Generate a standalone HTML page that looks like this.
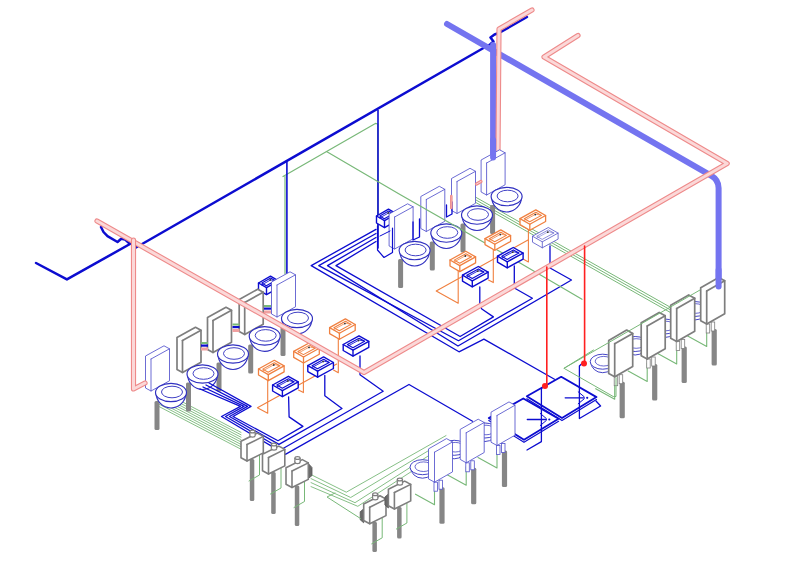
<!DOCTYPE html>
<html><head><meta charset="utf-8"><style>
html,body{margin:0;padding:0;background:#fff;}
svg{display:block;}
</style></head><body>
<svg width="800" height="568" viewBox="0 0 800 568">
<rect width="800" height="568" fill="#fff"/>
<polyline points="283,176.5 375.4,123.4 377.8,124 377.8,240" fill="none" stroke="#78b878" stroke-width="1.2" stroke-linejoin="round" stroke-linecap="round" />
<polyline points="285,176.5 285,274" fill="none" stroke="#78b878" stroke-width="1.2" stroke-linejoin="round" stroke-linecap="round" />
<polyline points="470,194 670.6,307.4" fill="none" stroke="#78b878" stroke-width="1" stroke-linejoin="round" stroke-linecap="round" />
<polyline points="470,196.6 670.6,310" fill="none" stroke="#78b878" stroke-width="1" stroke-linejoin="round" stroke-linecap="round" />
<polyline points="470,199.2 670.6,312.6" fill="none" stroke="#78b878" stroke-width="1" stroke-linejoin="round" stroke-linecap="round" />
<polyline points="36,263 66.9,279.4 130,244 125,239.4 121.2,238.8 117.5,242 107.5,236.2 103.5,232 101,227" fill="none" stroke="#0c0cd0" stroke-width="2.5" stroke-linejoin="round" stroke-linecap="round" />
<polyline points="136,247.5 483.5,48 490,44.5 493.5,41.5 490.5,37.5 494.5,34.5 499,33 527,17" fill="none" stroke="#0c0cd0" stroke-width="2.5" stroke-linejoin="round" stroke-linecap="round" />
<polyline points="286.9,161.5 286.9,275" fill="none" stroke="#0c0cd0" stroke-width="1.6" stroke-linejoin="round" stroke-linecap="round" />
<polyline points="378,110.5 378,248" fill="none" stroke="#0c0cd0" stroke-width="1.6" stroke-linejoin="round" stroke-linecap="round" />
<polyline points="376,229.4 311.2,265.6 459,351.8 483.9,339.1 554.5,379.3" fill="none" stroke="#0c0cd0" stroke-width="1.3" stroke-linejoin="round" stroke-linecap="round" />
<polyline points="376,233.5 318.8,265.6 458.5,340.7 532.4,298.2 514.3,288 514.3,266" fill="none" stroke="#0c0cd0" stroke-width="1.3" stroke-linejoin="round" stroke-linecap="round" />
<polyline points="376,237.5 327.5,265.6 458,346 571.5,280 550,268 550,246" fill="none" stroke="#0c0cd0" stroke-width="1.3" stroke-linejoin="round" stroke-linecap="round" />
<polyline points="376,241.5 336,265.6 460.1,336.5 493.4,316.9 481.8,309 479.8,305 479.8,287" fill="none" stroke="#0c0cd0" stroke-width="1.3" stroke-linejoin="round" stroke-linecap="round" />
<path d="M447,24 L711.5,175.9 Q718.6,180 718.6,188 L718.6,285" fill="none" stroke="#7474f0" stroke-width="6" stroke-linecap="round"/>
<polyline points="493.1,45 493.1,156" fill="none" stroke="#7474f0" stroke-width="6" stroke-linejoin="round" stroke-linecap="round" />
<polyline points="532,10 499,29 498,151" fill="none" stroke="#ee8a8a" stroke-width="5.2" stroke-linejoin="round" stroke-linecap="round" />
<polyline points="532,10 499,29 498,151" fill="none" stroke="#fbd8d8" stroke-width="3.0" stroke-linejoin="round" stroke-linecap="round" />
<polyline points="458.2,269.6 458.2,303.3 436.2,290.9 528,240" fill="none" stroke="#f08040" stroke-width="1.1" stroke-linejoin="round" stroke-linecap="round" />
<polyline points="493.3,248 493.3,282.6 488.5,280" fill="none" stroke="#f08040" stroke-width="1.1" stroke-linejoin="round" stroke-linecap="round" />
<polyline points="528.4,228 528.4,262 523.5,259.2" fill="none" stroke="#f08040" stroke-width="1.1" stroke-linejoin="round" stroke-linecap="round" />
<polyline points="338.3,337 338.3,372.8 333.5,370" fill="none" stroke="#f08040" stroke-width="1.1" stroke-linejoin="round" stroke-linecap="round" />
<polyline points="303.4,358.5 303.4,392.6 298.5,390" fill="none" stroke="#f08040" stroke-width="1.1" stroke-linejoin="round" stroke-linecap="round" />
<polyline points="267.7,377.5 267.7,413.2 257.4,407.7 336.7,364" fill="none" stroke="#f08040" stroke-width="1.1" stroke-linejoin="round" stroke-linecap="round" />
<polygon points="376.5,216 388.5,209.2 396.5,213.8 396.5,220.8 384.5,227.6 376.5,223" fill="#fff" stroke="#0c0cd0" stroke-width="1.4" stroke-linejoin="round" />
<polyline points="376.5,216 384.5,220.6 396.5,213.8" fill="none" stroke="#0c0cd0" stroke-width="1.4" stroke-linejoin="round" stroke-linecap="round" />
<polyline points="384.5,220.6 384.5,227.6" fill="none" stroke="#0c0cd0" stroke-width="1.4" stroke-linejoin="round" stroke-linecap="round" />
<polygon points="379.8,216.1 388.7,211.1 393.2,213.7 384.3,218.7" fill="none" stroke="#0c0cd0" stroke-width="1.1199999999999999" stroke-linejoin="round" />
<polyline points="379.8,217.9 388.7,212.9 393.2,213.7" fill="none" stroke="#0c0cd0" stroke-width="0.84" stroke-linejoin="round" stroke-linecap="round" />
<circle cx="388.3" cy="212.9" r="0.9" fill="#333"/>
<polygon points="258.5,283 270.5,276.2 278.5,280.8 278.5,287.8 266.5,294.6 258.5,290" fill="#fff" stroke="#0c0cd0" stroke-width="1.4" stroke-linejoin="round" />
<polyline points="258.5,283 266.5,287.6 278.5,280.8" fill="none" stroke="#0c0cd0" stroke-width="1.4" stroke-linejoin="round" stroke-linecap="round" />
<polyline points="266.5,287.6 266.5,294.6" fill="none" stroke="#0c0cd0" stroke-width="1.4" stroke-linejoin="round" stroke-linecap="round" />
<polygon points="261.8,283.1 270.7,278.1 275.2,280.7 266.3,285.7" fill="none" stroke="#0c0cd0" stroke-width="1.1199999999999999" stroke-linejoin="round" />
<polyline points="261.8,284.9 270.7,279.9 275.2,280.7" fill="none" stroke="#0c0cd0" stroke-width="0.84" stroke-linejoin="round" stroke-linecap="round" />
<circle cx="270.3" cy="279.9" r="0.9" fill="#333"/>
<rect x="490.1" y="205" width="5" height="29" fill="#868686" rx="1.5"/>
<polygon points="481.1,192 481.1,160 499.6,149.8 505.1,152.8 505.1,184.8 486.6,195" fill="#fff" stroke="#5252cc" stroke-width="0.85" stroke-linejoin="round" />
<polyline points="486.6,163 486.6,195" fill="none" stroke="#5252cc" stroke-width="0.85" stroke-linejoin="round" stroke-linecap="round" />
<polyline points="486.6,163 505.1,152.8" fill="none" stroke="#5252cc" stroke-width="0.85" stroke-linejoin="round" stroke-linecap="round" />
<path d="M491.6,196.5 A15,15.5 0 0 0 521.6,196.5" fill="#fff" stroke="#3030c0" stroke-width="1.15"/>
<ellipse cx="506.6" cy="196.5" rx="15.5" ry="9.2" fill="#fff" stroke="#3030c0" stroke-width="1.15"/>
<ellipse cx="507.6" cy="196" rx="10.5" ry="5.8" fill="none" stroke="#3030c0" stroke-width="0.9199999999999999"/>
<rect x="460.5" y="223.5" width="5" height="29" fill="#868686" rx="1.5"/>
<polygon points="451.5,210.5 451.5,178.5 470,168.3 475.5,171.3 475.5,203.3 457,213.5" fill="#fff" stroke="#5252cc" stroke-width="0.85" stroke-linejoin="round" />
<polyline points="457,181.5 457,213.5" fill="none" stroke="#5252cc" stroke-width="0.85" stroke-linejoin="round" stroke-linecap="round" />
<polyline points="457,181.5 475.5,171.3" fill="none" stroke="#5252cc" stroke-width="0.85" stroke-linejoin="round" stroke-linecap="round" />
<path d="M462,215 A15,15.5 0 0 0 492,215" fill="#fff" stroke="#3030c0" stroke-width="1.15"/>
<ellipse cx="477" cy="215" rx="15.5" ry="9.2" fill="#fff" stroke="#3030c0" stroke-width="1.15"/>
<ellipse cx="478" cy="214.5" rx="10.5" ry="5.8" fill="none" stroke="#3030c0" stroke-width="0.9199999999999999"/>
<rect x="429.8" y="241.5" width="5" height="29" fill="#868686" rx="1.5"/>
<polygon points="420.8,228.5 420.8,196.5 439.3,186.3 444.8,189.3 444.8,221.3 426.3,231.5" fill="#fff" stroke="#5252cc" stroke-width="0.85" stroke-linejoin="round" />
<polyline points="426.3,199.5 426.3,231.5" fill="none" stroke="#5252cc" stroke-width="0.85" stroke-linejoin="round" stroke-linecap="round" />
<polyline points="426.3,199.5 444.8,189.3" fill="none" stroke="#5252cc" stroke-width="0.85" stroke-linejoin="round" stroke-linecap="round" />
<path d="M431.3,233 A15,15.5 0 0 0 461.3,233" fill="#fff" stroke="#3030c0" stroke-width="1.15"/>
<ellipse cx="446.3" cy="233" rx="15.5" ry="9.2" fill="#fff" stroke="#3030c0" stroke-width="1.15"/>
<ellipse cx="447.3" cy="232.5" rx="10.5" ry="5.8" fill="none" stroke="#3030c0" stroke-width="0.9199999999999999"/>
<rect x="398.1" y="259" width="5" height="29" fill="#868686" rx="1.5"/>
<polygon points="389.1,246 389.1,214 407.6,203.8 413.1,206.8 413.1,238.8 394.6,249" fill="#fff" stroke="#5252cc" stroke-width="0.85" stroke-linejoin="round" />
<polyline points="394.6,217 394.6,249" fill="none" stroke="#5252cc" stroke-width="0.85" stroke-linejoin="round" stroke-linecap="round" />
<polyline points="394.6,217 413.1,206.8" fill="none" stroke="#5252cc" stroke-width="0.85" stroke-linejoin="round" stroke-linecap="round" />
<path d="M399.6,250.5 A15,15.5 0 0 0 429.6,250.5" fill="#fff" stroke="#3030c0" stroke-width="1.15"/>
<ellipse cx="414.6" cy="250.5" rx="15.5" ry="9.2" fill="#fff" stroke="#3030c0" stroke-width="1.15"/>
<ellipse cx="415.6" cy="250" rx="10.5" ry="5.8" fill="none" stroke="#3030c0" stroke-width="0.9199999999999999"/>
<polyline points="326.5,151.6 400,194.5 520,263 582,299.3" fill="none" stroke="#78b878" stroke-width="1.2" stroke-linejoin="round" stroke-linecap="round" />
<polyline points="377.5,226 377.5,250 384,257.5 392.5,252.5 392.5,228" fill="none" stroke="#0c0cd0" stroke-width="1.2" stroke-linejoin="round" stroke-linecap="round" />
<polyline points="380,236 390,231" fill="none" stroke="#0c0cd0" stroke-width="1" stroke-linejoin="round" stroke-linecap="round" />
<polyline points="413,222 413,240 419.5,237 419.5,219" fill="none" stroke="#0c0cd0" stroke-width="1.3" stroke-linejoin="round" stroke-linecap="round" />
<polyline points="446.5,205 446.5,217 452,214 452,202" fill="none" stroke="#0c0cd0" stroke-width="1.3" stroke-linejoin="round" stroke-linecap="round" />
<polyline points="476.5,184 481,181.5" fill="none" stroke="#ee8a8a" stroke-width="3.2" stroke-linejoin="round" stroke-linecap="round" />
<polyline points="476.5,184 481,181.5" fill="none" stroke="#fbd8d8" stroke-width="1.0" stroke-linejoin="round" stroke-linecap="round" />
<polyline points="451.3,196 451.3,208" fill="none" stroke="#ee8a8a" stroke-width="2.6" stroke-linejoin="round" stroke-linecap="round" />
<polyline points="451.3,196 451.3,208" fill="none" stroke="#fbd8d8" stroke-width="0.3999999999999999" stroke-linejoin="round" stroke-linecap="round" />
<polygon points="520,218.6 535.8,209.9 545.6,215.5 545.6,221.5 529.8,230.2 520,224.6" fill="#fff" stroke="#f08040" stroke-width="1.3" stroke-linejoin="round" />
<polyline points="520,218.6 529.8,224.2 545.6,215.5" fill="none" stroke="#f08040" stroke-width="1.3" stroke-linejoin="round" stroke-linecap="round" />
<polyline points="529.8,224.2 529.8,230.2" fill="none" stroke="#f08040" stroke-width="1.3" stroke-linejoin="round" stroke-linecap="round" />
<polygon points="524.2,218.7 535.9,212.3 541.4,215.4 529.7,221.8" fill="none" stroke="#f08040" stroke-width="1.04" stroke-linejoin="round" />
<polyline points="524.2,220.5 535.9,214.1 541.4,215.4" fill="none" stroke="#f08040" stroke-width="0.78" stroke-linejoin="round" stroke-linecap="round" />
<circle cx="535.3" cy="214.6" r="0.9" fill="#333"/>
<polygon points="485,238.6 500.8,229.9 510.6,235.5 510.6,241.5 494.8,250.2 485,244.6" fill="#fff" stroke="#f08040" stroke-width="1.3" stroke-linejoin="round" />
<polyline points="485,238.6 494.8,244.2 510.6,235.5" fill="none" stroke="#f08040" stroke-width="1.3" stroke-linejoin="round" stroke-linecap="round" />
<polyline points="494.8,244.2 494.8,250.2" fill="none" stroke="#f08040" stroke-width="1.3" stroke-linejoin="round" stroke-linecap="round" />
<polygon points="489.2,238.7 500.9,232.3 506.4,235.4 494.7,241.8" fill="none" stroke="#f08040" stroke-width="1.04" stroke-linejoin="round" />
<polyline points="489.2,240.5 500.9,234.1 506.4,235.4" fill="none" stroke="#f08040" stroke-width="0.78" stroke-linejoin="round" stroke-linecap="round" />
<circle cx="500.3" cy="234.6" r="0.9" fill="#333"/>
<polygon points="450,260 465.8,251.3 475.6,256.9 475.6,262.9 459.8,271.6 450,266" fill="#fff" stroke="#f08040" stroke-width="1.3" stroke-linejoin="round" />
<polyline points="450,260 459.8,265.6 475.6,256.9" fill="none" stroke="#f08040" stroke-width="1.3" stroke-linejoin="round" stroke-linecap="round" />
<polyline points="459.8,265.6 459.8,271.6" fill="none" stroke="#f08040" stroke-width="1.3" stroke-linejoin="round" stroke-linecap="round" />
<polygon points="454.2,260.1 465.9,253.7 471.4,256.8 459.7,263.2" fill="none" stroke="#f08040" stroke-width="1.04" stroke-linejoin="round" />
<polyline points="454.2,261.9 465.9,255.5 471.4,256.8" fill="none" stroke="#f08040" stroke-width="0.78" stroke-linejoin="round" stroke-linecap="round" />
<circle cx="465.3" cy="256" r="0.9" fill="#333"/>
<polygon points="532.5,236.2 548.3,227.5 558.1,233.1 558.1,239.1 542.3,247.8 532.5,242.2" fill="#fff" stroke="#5050c8" stroke-width="0.8" stroke-linejoin="round" />
<polyline points="532.5,236.2 542.3,241.8 558.1,233.1" fill="none" stroke="#5050c8" stroke-width="0.8" stroke-linejoin="round" stroke-linecap="round" />
<polyline points="542.3,241.8 542.3,247.8" fill="none" stroke="#5050c8" stroke-width="0.8" stroke-linejoin="round" stroke-linecap="round" />
<polygon points="536.7,236.3 548.4,229.9 553.9,233 542.2,239.4" fill="none" stroke="#5050c8" stroke-width="0.6400000000000001" stroke-linejoin="round" />
<polyline points="536.7,238.1 548.4,231.7 553.9,233" fill="none" stroke="#5050c8" stroke-width="0.48" stroke-linejoin="round" stroke-linecap="round" />
<circle cx="547.8" cy="232.2" r="0.9" fill="#333"/>
<polygon points="497.5,256.2 513.3,247.5 523.1,253.1 523.1,259.1 507.3,267.8 497.5,262.2" fill="#fff" stroke="#0c0cd0" stroke-width="1.4" stroke-linejoin="round" />
<polyline points="497.5,256.2 507.3,261.8 523.1,253.1" fill="none" stroke="#0c0cd0" stroke-width="1.4" stroke-linejoin="round" stroke-linecap="round" />
<polyline points="507.3,261.8 507.3,267.8" fill="none" stroke="#0c0cd0" stroke-width="1.4" stroke-linejoin="round" stroke-linecap="round" />
<polygon points="501.7,256.3 513.4,249.9 518.9,253 507.2,259.4" fill="none" stroke="#0c0cd0" stroke-width="1.1199999999999999" stroke-linejoin="round" />
<polyline points="501.7,258.1 513.4,251.7 518.9,253" fill="none" stroke="#0c0cd0" stroke-width="0.84" stroke-linejoin="round" stroke-linecap="round" />
<circle cx="512.8" cy="252.2" r="0.9" fill="#333"/>
<polygon points="462.5,275.2 478.3,266.5 488.1,272.1 488.1,278.1 472.3,286.8 462.5,281.2" fill="#fff" stroke="#0c0cd0" stroke-width="1.4" stroke-linejoin="round" />
<polyline points="462.5,275.2 472.3,280.8 488.1,272.1" fill="none" stroke="#0c0cd0" stroke-width="1.4" stroke-linejoin="round" stroke-linecap="round" />
<polyline points="472.3,280.8 472.3,286.8" fill="none" stroke="#0c0cd0" stroke-width="1.4" stroke-linejoin="round" stroke-linecap="round" />
<polygon points="466.7,275.3 478.4,268.9 483.9,272 472.2,278.4" fill="none" stroke="#0c0cd0" stroke-width="1.1199999999999999" stroke-linejoin="round" />
<polyline points="466.7,277.1 478.4,270.7 483.9,272" fill="none" stroke="#0c0cd0" stroke-width="0.84" stroke-linejoin="round" stroke-linecap="round" />
<circle cx="477.8" cy="271.2" r="0.9" fill="#333"/>
<polyline points="158,389.2 241,432.4" fill="none" stroke="#78b878" stroke-width="0.9" stroke-linejoin="round" stroke-linecap="round" />
<polyline points="158,391.6 241,434.8" fill="none" stroke="#78b878" stroke-width="0.9" stroke-linejoin="round" stroke-linecap="round" />
<polyline points="158,394 241,437.2" fill="none" stroke="#78b878" stroke-width="0.9" stroke-linejoin="round" stroke-linecap="round" />
<polyline points="158,396.4 241,439.6" fill="none" stroke="#78b878" stroke-width="0.9" stroke-linejoin="round" stroke-linecap="round" />
<polyline points="158,398.8 241,442" fill="none" stroke="#78b878" stroke-width="0.9" stroke-linejoin="round" stroke-linecap="round" />
<polyline points="158,401.2 241,444.4" fill="none" stroke="#78b878" stroke-width="0.9" stroke-linejoin="round" stroke-linecap="round" />
<polyline points="158,403.6 241,446.8" fill="none" stroke="#78b878" stroke-width="0.9" stroke-linejoin="round" stroke-linecap="round" />
<polyline points="158,406 241,449.2" fill="none" stroke="#78b878" stroke-width="0.9" stroke-linejoin="round" stroke-linecap="round" />
<rect x="280.5" y="327" width="5" height="29" fill="#868686" rx="1.5"/>
<polygon points="271.5,314 271.5,282 290,271.8 295.5,274.8 295.5,306.8 277,317" fill="#fff" stroke="#5252cc" stroke-width="0.85" stroke-linejoin="round" />
<polyline points="277,285 277,317" fill="none" stroke="#5252cc" stroke-width="0.85" stroke-linejoin="round" stroke-linecap="round" />
<polyline points="277,285 295.5,274.8" fill="none" stroke="#5252cc" stroke-width="0.85" stroke-linejoin="round" stroke-linecap="round" />
<path d="M282,318.5 A15,15.5 0 0 0 312,318.5" fill="#fff" stroke="#3030c0" stroke-width="1.15"/>
<ellipse cx="297" cy="318.5" rx="15.5" ry="9.2" fill="#fff" stroke="#3030c0" stroke-width="1.15"/>
<ellipse cx="298" cy="318" rx="10.5" ry="5.8" fill="none" stroke="#3030c0" stroke-width="0.9199999999999999"/>
<rect x="248.2" y="344.4" width="5" height="29" fill="#868686" rx="1.5"/>
<polygon points="239.2,331.4 239.2,299.4 257.7,289.2 263.2,292.2 263.2,324.2 244.7,334.4" fill="#fff" stroke="#7e7e7e" stroke-width="1.7" stroke-linejoin="round" />
<polyline points="244.7,302.4 244.7,334.4" fill="none" stroke="#7e7e7e" stroke-width="1.7" stroke-linejoin="round" stroke-linecap="round" />
<polyline points="244.7,302.4 263.2,292.2" fill="none" stroke="#7e7e7e" stroke-width="1.7" stroke-linejoin="round" stroke-linecap="round" />
<path d="M249.7,335.9 A15,15.5 0 0 0 279.7,335.9" fill="#fff" stroke="#3030c0" stroke-width="1.15"/>
<ellipse cx="264.7" cy="335.9" rx="15.5" ry="9.2" fill="#fff" stroke="#3030c0" stroke-width="1.15"/>
<ellipse cx="265.7" cy="335.4" rx="10.5" ry="5.8" fill="none" stroke="#3030c0" stroke-width="0.9199999999999999"/>
<rect x="216.5" y="362.5" width="5" height="29" fill="#868686" rx="1.5"/>
<polygon points="207.5,349.5 207.5,317.5 226,307.3 231.5,310.3 231.5,342.3 213,352.5" fill="#fff" stroke="#7e7e7e" stroke-width="1.7" stroke-linejoin="round" />
<polyline points="213,320.5 213,352.5" fill="none" stroke="#7e7e7e" stroke-width="1.7" stroke-linejoin="round" stroke-linecap="round" />
<polyline points="213,320.5 231.5,310.3" fill="none" stroke="#7e7e7e" stroke-width="1.7" stroke-linejoin="round" stroke-linecap="round" />
<path d="M218,354 A15,15.5 0 0 0 248,354" fill="#fff" stroke="#3030c0" stroke-width="1.15"/>
<ellipse cx="233" cy="354" rx="15.5" ry="9.2" fill="#fff" stroke="#3030c0" stroke-width="1.15"/>
<ellipse cx="234" cy="353.5" rx="10.5" ry="5.8" fill="none" stroke="#3030c0" stroke-width="0.9199999999999999"/>
<rect x="186" y="382.5" width="5" height="29" fill="#868686" rx="1.5"/>
<polygon points="177,369.5 177,337.5 195.5,327.3 201,330.3 201,362.3 182.5,372.5" fill="#fff" stroke="#7e7e7e" stroke-width="1.7" stroke-linejoin="round" />
<polyline points="182.5,340.5 182.5,372.5" fill="none" stroke="#7e7e7e" stroke-width="1.7" stroke-linejoin="round" stroke-linecap="round" />
<polyline points="182.5,340.5 201,330.3" fill="none" stroke="#7e7e7e" stroke-width="1.7" stroke-linejoin="round" stroke-linecap="round" />
<path d="M187.5,374 A15,15.5 0 0 0 217.5,374" fill="#fff" stroke="#3030c0" stroke-width="1.15"/>
<ellipse cx="202.5" cy="374" rx="15.5" ry="9.2" fill="#fff" stroke="#3030c0" stroke-width="1.15"/>
<ellipse cx="203.5" cy="373.5" rx="10.5" ry="5.8" fill="none" stroke="#3030c0" stroke-width="0.9199999999999999"/>
<rect x="154.5" y="401" width="5" height="29" fill="#868686" rx="1.5"/>
<polygon points="145.5,388 145.5,356 164,345.8 169.5,348.8 169.5,380.8 151,391" fill="#fff" stroke="#5252cc" stroke-width="0.85" stroke-linejoin="round" />
<polyline points="151,359 151,391" fill="none" stroke="#5252cc" stroke-width="0.85" stroke-linejoin="round" stroke-linecap="round" />
<polyline points="151,359 169.5,348.8" fill="none" stroke="#5252cc" stroke-width="0.85" stroke-linejoin="round" stroke-linecap="round" />
<path d="M156,392.5 A15,15.5 0 0 0 186,392.5" fill="#fff" stroke="#3030c0" stroke-width="1.15"/>
<ellipse cx="171" cy="392.5" rx="15.5" ry="9.2" fill="#fff" stroke="#3030c0" stroke-width="1.15"/>
<ellipse cx="172" cy="392" rx="10.5" ry="5.8" fill="none" stroke="#3030c0" stroke-width="0.9199999999999999"/>
<rect x="201" y="342" width="7" height="2" fill="#78b878"/>
<rect x="201" y="344.5" width="7" height="2.2" fill="#0c0cd0"/>
<rect x="201" y="347.5" width="7" height="3" fill="#f0a0a0"/>
<rect x="232.5" y="323.5" width="7" height="2" fill="#78b878"/>
<rect x="232.5" y="326.0" width="7" height="2.2" fill="#0c0cd0"/>
<rect x="232.5" y="329.0" width="7" height="3" fill="#f0a0a0"/>
<rect x="264" y="305" width="7" height="2" fill="#78b878"/>
<rect x="264" y="307.5" width="7" height="2.2" fill="#0c0cd0"/>
<rect x="264" y="310.5" width="7" height="3" fill="#f0a0a0"/>
<polygon points="329.6,327.6 345.4,318.9 355.2,324.5 355.2,330.5 339.4,339.2 329.6,333.6" fill="#fff" stroke="#f08040" stroke-width="1.3" stroke-linejoin="round" />
<polyline points="329.6,327.6 339.4,333.2 355.2,324.5" fill="none" stroke="#f08040" stroke-width="1.3" stroke-linejoin="round" stroke-linecap="round" />
<polyline points="339.4,333.2 339.4,339.2" fill="none" stroke="#f08040" stroke-width="1.3" stroke-linejoin="round" stroke-linecap="round" />
<polygon points="333.8,327.7 345.5,321.3 351,324.4 339.3,330.8" fill="none" stroke="#f08040" stroke-width="1.04" stroke-linejoin="round" />
<polyline points="333.8,329.5 345.5,323.1 351,324.4" fill="none" stroke="#f08040" stroke-width="0.78" stroke-linejoin="round" stroke-linecap="round" />
<circle cx="344.9" cy="323.6" r="0.9" fill="#333"/>
<polygon points="293.7,351.4 309.5,342.7 319.3,348.3 319.3,354.3 303.5,363 293.7,357.4" fill="#fff" stroke="#f08040" stroke-width="1.3" stroke-linejoin="round" />
<polyline points="293.7,351.4 303.5,357 319.3,348.3" fill="none" stroke="#f08040" stroke-width="1.3" stroke-linejoin="round" stroke-linecap="round" />
<polyline points="303.5,357 303.5,363" fill="none" stroke="#f08040" stroke-width="1.3" stroke-linejoin="round" stroke-linecap="round" />
<polygon points="297.9,351.5 309.6,345.1 315.1,348.2 303.4,354.6" fill="none" stroke="#f08040" stroke-width="1.04" stroke-linejoin="round" />
<polyline points="297.9,353.3 309.6,346.9 315.1,348.2" fill="none" stroke="#f08040" stroke-width="0.78" stroke-linejoin="round" stroke-linecap="round" />
<circle cx="309" cy="347.4" r="0.9" fill="#333"/>
<polygon points="258.5,369 274.3,360.3 284.1,365.9 284.1,371.9 268.3,380.6 258.5,375" fill="#fff" stroke="#f08040" stroke-width="1.3" stroke-linejoin="round" />
<polyline points="258.5,369 268.3,374.6 284.1,365.9" fill="none" stroke="#f08040" stroke-width="1.3" stroke-linejoin="round" stroke-linecap="round" />
<polyline points="268.3,374.6 268.3,380.6" fill="none" stroke="#f08040" stroke-width="1.3" stroke-linejoin="round" stroke-linecap="round" />
<polygon points="262.7,369.1 274.4,362.7 279.9,365.8 268.2,372.2" fill="none" stroke="#f08040" stroke-width="1.04" stroke-linejoin="round" />
<polyline points="262.7,370.9 274.4,364.5 279.9,365.8" fill="none" stroke="#f08040" stroke-width="0.78" stroke-linejoin="round" stroke-linecap="round" />
<circle cx="273.8" cy="365" r="0.9" fill="#333"/>
<polygon points="343.2,344.5 359,335.8 368.8,341.4 368.8,347.4 353,356.1 343.2,350.5" fill="#fff" stroke="#0c0cd0" stroke-width="1.4" stroke-linejoin="round" />
<polyline points="343.2,344.5 353,350.1 368.8,341.4" fill="none" stroke="#0c0cd0" stroke-width="1.4" stroke-linejoin="round" stroke-linecap="round" />
<polyline points="353,350.1 353,356.1" fill="none" stroke="#0c0cd0" stroke-width="1.4" stroke-linejoin="round" stroke-linecap="round" />
<polygon points="347.4,344.6 359.1,338.2 364.6,341.3 352.9,347.7" fill="none" stroke="#0c0cd0" stroke-width="1.1199999999999999" stroke-linejoin="round" />
<polyline points="347.4,346.4 359.1,340 364.6,341.3" fill="none" stroke="#0c0cd0" stroke-width="0.84" stroke-linejoin="round" stroke-linecap="round" />
<circle cx="358.5" cy="340.5" r="0.9" fill="#333"/>
<polygon points="307.8,365.6 323.6,356.9 333.4,362.5 333.4,368.5 317.6,377.2 307.8,371.6" fill="#fff" stroke="#0c0cd0" stroke-width="1.4" stroke-linejoin="round" />
<polyline points="307.8,365.6 317.6,371.2 333.4,362.5" fill="none" stroke="#0c0cd0" stroke-width="1.4" stroke-linejoin="round" stroke-linecap="round" />
<polyline points="317.6,371.2 317.6,377.2" fill="none" stroke="#0c0cd0" stroke-width="1.4" stroke-linejoin="round" stroke-linecap="round" />
<polygon points="312,365.7 323.7,359.3 329.2,362.4 317.5,368.8" fill="none" stroke="#0c0cd0" stroke-width="1.1199999999999999" stroke-linejoin="round" />
<polyline points="312,367.5 323.7,361.1 329.2,362.4" fill="none" stroke="#0c0cd0" stroke-width="0.84" stroke-linejoin="round" stroke-linecap="round" />
<circle cx="323.1" cy="361.6" r="0.9" fill="#333"/>
<polygon points="272.6,385 288.4,376.3 298.2,381.9 298.2,387.9 282.4,396.6 272.6,391" fill="#fff" stroke="#0c0cd0" stroke-width="1.4" stroke-linejoin="round" />
<polyline points="272.6,385 282.4,390.6 298.2,381.9" fill="none" stroke="#0c0cd0" stroke-width="1.4" stroke-linejoin="round" stroke-linecap="round" />
<polyline points="282.4,390.6 282.4,396.6" fill="none" stroke="#0c0cd0" stroke-width="1.4" stroke-linejoin="round" stroke-linecap="round" />
<polygon points="276.8,385.1 288.5,378.7 294,381.8 282.3,388.2" fill="none" stroke="#0c0cd0" stroke-width="1.1199999999999999" stroke-linejoin="round" />
<polyline points="276.8,386.9 288.5,380.5 294,381.8" fill="none" stroke="#0c0cd0" stroke-width="0.84" stroke-linejoin="round" stroke-linecap="round" />
<circle cx="287.9" cy="381" r="0.9" fill="#333"/>
<polyline points="209,383 251,406.4 233,416.5 278,440.7 302.9,426.4 289.1,416.9 288.6,396.8" fill="none" stroke="#0c0cd0" stroke-width="1.3" stroke-linejoin="round" stroke-linecap="round" />
<polyline points="206,385 247.5,406.4 229.5,416.5 279,444.4 342,408.5 324.8,395.8 324.8,375.5" fill="none" stroke="#0c0cd0" stroke-width="1.3" stroke-linejoin="round" stroke-linecap="round" />
<polyline points="203,387 244,406.4 225.5,416.5 281.7,449.2 383.2,391.2 360,374.8 360,356" fill="none" stroke="#0c0cd0" stroke-width="1.3" stroke-linejoin="round" stroke-linecap="round" />
<polyline points="200,389 240.5,406.4 221.5,416.5 285.4,454.4 409,384.5 472.5,421.2" fill="none" stroke="#0c0cd0" stroke-width="1.3" stroke-linejoin="round" stroke-linecap="round" />
<polyline points="311,474.6 346.3,492.2 446,435.6" fill="none" stroke="#78b878" stroke-width="0.9" stroke-linejoin="round" stroke-linecap="round" />
<polyline points="311,478.6 350.7,497.5 446,440.1" fill="none" stroke="#78b878" stroke-width="0.9" stroke-linejoin="round" stroke-linecap="round" />
<polyline points="311,482.6 355,502.7 446,444.6" fill="none" stroke="#78b878" stroke-width="0.9" stroke-linejoin="round" stroke-linecap="round" />
<polyline points="311,486.6 357.8,506.3 446,449.1" fill="none" stroke="#78b878" stroke-width="0.9" stroke-linejoin="round" stroke-linecap="round" />
<polyline points="687.7,336 706.7,346.5 706.7,328" fill="none" stroke="#78b878" stroke-width="1.1" stroke-linejoin="round" stroke-linecap="round" />
<path d="M682.7,309 A12,11 0 0 0 706.7,309" fill="#fff" stroke="#3030c0" stroke-width="0.9"/>
<ellipse cx="694.7" cy="309" rx="12.5" ry="7.5" fill="#fff" stroke="#3030c0" stroke-width="0.9"/>
<ellipse cx="695.7" cy="308.5" rx="8.5" ry="4.8" fill="none" stroke="#3030c0" stroke-width="0.7200000000000001"/>
<rect x="711.6" y="329" width="5.2" height="36.5" fill="#868686" rx="1.5"/>
<rect x="706.2" y="324" width="3.5" height="9" fill="#fff" stroke="#7e7e7e" stroke-width="0.8"/>
<rect x="711.2" y="322" width="3.5" height="9" fill="#fff" stroke="#7e7e7e" stroke-width="0.8"/>
<polygon points="700.7,320.7 700.7,287.7 718.7,277.4 724.7,280.7 724.7,313.7 706.7,324" fill="#fff" stroke="#7e7e7e" stroke-width="1.7" stroke-linejoin="round" />
<polyline points="706.7,291 706.7,324" fill="none" stroke="#7e7e7e" stroke-width="1.7" stroke-linejoin="round" stroke-linecap="round" />
<polyline points="706.7,291 724.7,280.7" fill="none" stroke="#7e7e7e" stroke-width="1.7" stroke-linejoin="round" stroke-linecap="round" />
<polyline points="657.7,353.5 676.7,364 676.7,345.5" fill="none" stroke="#78b878" stroke-width="1.1" stroke-linejoin="round" stroke-linecap="round" />
<path d="M652.7,326.5 A12,11 0 0 0 676.7,326.5" fill="#fff" stroke="#3030c0" stroke-width="0.9"/>
<ellipse cx="664.7" cy="326.5" rx="12.5" ry="7.5" fill="#fff" stroke="#3030c0" stroke-width="0.9"/>
<ellipse cx="665.7" cy="326" rx="8.5" ry="4.8" fill="none" stroke="#3030c0" stroke-width="0.7200000000000001"/>
<rect x="681.6" y="346.5" width="5.2" height="36.5" fill="#868686" rx="1.5"/>
<rect x="676.2" y="341.5" width="3.5" height="9" fill="#fff" stroke="#7e7e7e" stroke-width="0.8"/>
<rect x="681.2" y="339.5" width="3.5" height="9" fill="#fff" stroke="#7e7e7e" stroke-width="0.8"/>
<polygon points="670.7,338.2 670.7,305.2 688.7,294.9 694.7,298.2 694.7,331.2 676.7,341.5" fill="#fff" stroke="#7e7e7e" stroke-width="1.7" stroke-linejoin="round" />
<polyline points="676.7,308.5 676.7,341.5" fill="none" stroke="#7e7e7e" stroke-width="1.7" stroke-linejoin="round" stroke-linecap="round" />
<polyline points="676.7,308.5 694.7,298.2" fill="none" stroke="#7e7e7e" stroke-width="1.7" stroke-linejoin="round" stroke-linecap="round" />
<polyline points="628.2,371 647.2,381.5 647.2,363" fill="none" stroke="#78b878" stroke-width="1.1" stroke-linejoin="round" stroke-linecap="round" />
<path d="M623.2,344 A12,11 0 0 0 647.2,344" fill="#fff" stroke="#3030c0" stroke-width="0.9"/>
<ellipse cx="635.2" cy="344" rx="12.5" ry="7.5" fill="#fff" stroke="#3030c0" stroke-width="0.9"/>
<ellipse cx="636.2" cy="343.5" rx="8.5" ry="4.8" fill="none" stroke="#3030c0" stroke-width="0.7200000000000001"/>
<rect x="652.1" y="364" width="5.2" height="36.5" fill="#868686" rx="1.5"/>
<rect x="646.7" y="359" width="3.5" height="9" fill="#fff" stroke="#7e7e7e" stroke-width="0.8"/>
<rect x="651.7" y="357" width="3.5" height="9" fill="#fff" stroke="#7e7e7e" stroke-width="0.8"/>
<polygon points="641.2,355.7 641.2,322.7 659.2,312.4 665.2,315.7 665.2,348.7 647.2,359" fill="#fff" stroke="#7e7e7e" stroke-width="1.7" stroke-linejoin="round" />
<polyline points="647.2,326 647.2,359" fill="none" stroke="#7e7e7e" stroke-width="1.7" stroke-linejoin="round" stroke-linecap="round" />
<polyline points="647.2,326 665.2,315.7" fill="none" stroke="#7e7e7e" stroke-width="1.7" stroke-linejoin="round" stroke-linecap="round" />
<polyline points="595.7,388.7 614.7,399.2 614.7,380.7" fill="none" stroke="#78b878" stroke-width="1.1" stroke-linejoin="round" stroke-linecap="round" />
<path d="M590.7,361.7 A12,11 0 0 0 614.7,361.7" fill="#fff" stroke="#3030c0" stroke-width="0.9"/>
<ellipse cx="602.7" cy="361.7" rx="12.5" ry="7.5" fill="#fff" stroke="#3030c0" stroke-width="0.9"/>
<ellipse cx="603.7" cy="361.2" rx="8.5" ry="4.8" fill="none" stroke="#3030c0" stroke-width="0.7200000000000001"/>
<rect x="619.6" y="381.7" width="5.2" height="36.5" fill="#868686" rx="1.5"/>
<rect x="614.2" y="376.7" width="3.5" height="9" fill="#fff" stroke="#7e7e7e" stroke-width="0.8"/>
<rect x="619.2" y="374.7" width="3.5" height="9" fill="#fff" stroke="#7e7e7e" stroke-width="0.8"/>
<polygon points="608.7,373.4 608.7,340.4 626.7,330.1 632.7,333.4 632.7,366.4 614.7,376.7" fill="#fff" stroke="#7e7e7e" stroke-width="1.7" stroke-linejoin="round" />
<polyline points="614.7,343.7 614.7,376.7" fill="none" stroke="#7e7e7e" stroke-width="1.7" stroke-linejoin="round" stroke-linecap="round" />
<polyline points="614.7,343.7 632.7,333.4" fill="none" stroke="#7e7e7e" stroke-width="1.7" stroke-linejoin="round" stroke-linecap="round" />
<polygon points="561.2,376.8 596.5,397.1 562,418.1 526.8,396.2" fill="#fff" stroke="#0c0cd0" stroke-width="1.8" stroke-linejoin="round" />
<polyline points="596.5,399.6 562,420.6 526.8,398.8" fill="none" stroke="#0c0cd0" stroke-width="1.2" stroke-linejoin="round" stroke-linecap="round" />
<line x1="565.2" y1="397.8" x2="584.2" y2="397.8" stroke="#0c0cd0" stroke-width="1.3" stroke-linecap="round"/>
<line x1="578.2" y1="391.8" x2="584.2" y2="396.8" stroke="#0c0cd0" stroke-width="1" stroke-linecap="round"/>
<line x1="578.2" y1="403.8" x2="584.2" y2="398.8" stroke="#0c0cd0" stroke-width="1" stroke-linecap="round"/>
<circle cx="587.2" cy="397.8" r="1.1" fill="#0c0cd0"/>
<polygon points="523.3,398.5 558.6,418.8 524,439.8 488.8,418" fill="#fff" stroke="#0c0cd0" stroke-width="1.8" stroke-linejoin="round" />
<polyline points="558.6,421.3 524,442.3 488.8,420.5" fill="none" stroke="#0c0cd0" stroke-width="1.2" stroke-linejoin="round" stroke-linecap="round" />
<line x1="527.3" y1="419.5" x2="546.3" y2="419.5" stroke="#0c0cd0" stroke-width="1.3" stroke-linecap="round"/>
<line x1="540.3" y1="413.5" x2="546.3" y2="418.5" stroke="#0c0cd0" stroke-width="1" stroke-linecap="round"/>
<line x1="540.3" y1="425.5" x2="546.3" y2="420.5" stroke="#0c0cd0" stroke-width="1" stroke-linecap="round"/>
<circle cx="549.3" cy="419.5" r="1.1" fill="#0c0cd0"/>
<polyline points="582,363.5 579.4,366 579.4,418.5 600.6,406 596,401" fill="none" stroke="#0c0cd0" stroke-width="1.3" stroke-linejoin="round" stroke-linecap="round" />
<polyline points="543.5,386.5 541.4,388.5 541.4,441.6 527,450" fill="none" stroke="#0c0cd0" stroke-width="1.3" stroke-linejoin="round" stroke-linecap="round" />
<polyline points="593.5,350 564,368.3 613.2,396.5 616,396.5 616,378" fill="none" stroke="#78b878" stroke-width="1" stroke-linejoin="round" stroke-linecap="round" />
<polyline points="564,368.3 700,290" fill="none" stroke="#78b878" stroke-width="1" stroke-linejoin="round" stroke-linecap="round" />
<polyline points="478,457.5 497,468 497,449.5" fill="none" stroke="#78b878" stroke-width="1.1" stroke-linejoin="round" stroke-linecap="round" />
<path d="M473,430.5 A12,11 0 0 0 497,430.5" fill="#fff" stroke="#3030c0" stroke-width="0.9"/>
<ellipse cx="485" cy="430.5" rx="12.5" ry="7.5" fill="#fff" stroke="#3030c0" stroke-width="0.9"/>
<ellipse cx="486" cy="430" rx="8.5" ry="4.8" fill="none" stroke="#3030c0" stroke-width="0.7200000000000001"/>
<rect x="501.9" y="450.5" width="5.2" height="36.5" fill="#868686" rx="1.5"/>
<rect x="496.5" y="445.5" width="3.5" height="9" fill="#fff" stroke="#5252cc" stroke-width="0.8"/>
<rect x="501.5" y="443.5" width="3.5" height="9" fill="#fff" stroke="#5252cc" stroke-width="0.8"/>
<polygon points="491,442.2 491,412.2 509,401.9 515,405.2 515,435.2 497,445.5" fill="#fff" stroke="#5252cc" stroke-width="0.85" stroke-linejoin="round" />
<polyline points="497,415.5 497,445.5" fill="none" stroke="#5252cc" stroke-width="0.85" stroke-linejoin="round" stroke-linecap="round" />
<polyline points="497,415.5 515,405.2" fill="none" stroke="#5252cc" stroke-width="0.85" stroke-linejoin="round" stroke-linecap="round" />
<polyline points="447.2,474.8 466.2,485.2 466.2,466.8" fill="none" stroke="#78b878" stroke-width="1.1" stroke-linejoin="round" stroke-linecap="round" />
<path d="M442.2,447.8 A12,11 0 0 0 466.2,447.8" fill="#fff" stroke="#3030c0" stroke-width="0.9"/>
<ellipse cx="454.2" cy="447.8" rx="12.5" ry="7.5" fill="#fff" stroke="#3030c0" stroke-width="0.9"/>
<ellipse cx="455.2" cy="447.2" rx="8.5" ry="4.8" fill="none" stroke="#3030c0" stroke-width="0.7200000000000001"/>
<rect x="471.1" y="467.8" width="5.2" height="36.5" fill="#868686" rx="1.5"/>
<rect x="465.8" y="462.8" width="3.5" height="9" fill="#fff" stroke="#5252cc" stroke-width="0.8"/>
<rect x="470.8" y="460.8" width="3.5" height="9" fill="#fff" stroke="#5252cc" stroke-width="0.8"/>
<polygon points="460.2,459.4 460.2,429.4 478.2,419.2 484.2,422.5 484.2,452.5 466.2,462.8" fill="#fff" stroke="#5252cc" stroke-width="0.85" stroke-linejoin="round" />
<polyline points="466.2,432.8 466.2,462.8" fill="none" stroke="#5252cc" stroke-width="0.85" stroke-linejoin="round" stroke-linecap="round" />
<polyline points="466.2,432.8 484.2,422.5" fill="none" stroke="#5252cc" stroke-width="0.85" stroke-linejoin="round" stroke-linecap="round" />
<polyline points="415.5,494.2 434.5,504.7 434.5,486.2" fill="none" stroke="#78b878" stroke-width="1.1" stroke-linejoin="round" stroke-linecap="round" />
<path d="M410.5,467.2 A12,11 0 0 0 434.5,467.2" fill="#fff" stroke="#3030c0" stroke-width="0.9"/>
<ellipse cx="422.5" cy="467.2" rx="12.5" ry="7.5" fill="#fff" stroke="#3030c0" stroke-width="0.9"/>
<ellipse cx="423.5" cy="466.7" rx="8.5" ry="4.8" fill="none" stroke="#3030c0" stroke-width="0.7200000000000001"/>
<rect x="439.4" y="487.2" width="5.2" height="36.5" fill="#868686" rx="1.5"/>
<rect x="434" y="482.2" width="3.5" height="9" fill="#fff" stroke="#5252cc" stroke-width="0.8"/>
<rect x="439" y="480.2" width="3.5" height="9" fill="#fff" stroke="#5252cc" stroke-width="0.8"/>
<polygon points="428.5,478.9 428.5,448.9 446.5,438.6 452.5,441.9 452.5,471.9 434.5,482.2" fill="#fff" stroke="#5252cc" stroke-width="0.85" stroke-linejoin="round" />
<polyline points="434.5,452.2 434.5,482.2" fill="none" stroke="#5252cc" stroke-width="0.85" stroke-linejoin="round" stroke-linecap="round" />
<polyline points="434.5,452.2 452.5,441.9" fill="none" stroke="#5252cc" stroke-width="0.85" stroke-linejoin="round" stroke-linecap="round" />
<rect x="249.8" y="459" width="4.5" height="42" fill="#868686" rx="1.5"/>
<polyline points="259.5,434 259.5,475 249,481" fill="none" stroke="#78b878" stroke-width="1" stroke-linejoin="round" stroke-linecap="round" />
<polygon points="241,457.7 241,441.2 257.3,433.1 263.3,436.4 263.3,452.9 247,461" fill="#fff" stroke="#7e7e7e" stroke-width="1.6" stroke-linejoin="round" />
<polyline points="247,444.5 247,461" fill="none" stroke="#7e7e7e" stroke-width="1.6" stroke-linejoin="round" stroke-linecap="round" />
<polyline points="247,444.5 263.3,436.4" fill="none" stroke="#7e7e7e" stroke-width="1.6" stroke-linejoin="round" stroke-linecap="round" />
<ellipse cx="252.5" cy="435.5" rx="2.6" ry="1.6" fill="#fff" stroke="#7e7e7e" stroke-width="1.3"/>
<rect x="249.9" y="431.5" width="5.2" height="4" fill="#fff" stroke="none"/>
<path d="M249.9,435.5 L249.9,431.5 M255.1,435.5 L255.1,431.5" stroke="#7e7e7e" stroke-width="1.2"/>
<ellipse cx="252.5" cy="431.5" rx="2.6" ry="1.4" fill="#fff" stroke="#7e7e7e" stroke-width="1.2"/>
<rect x="271.2" y="472" width="4.5" height="42" fill="#868686" rx="1.5"/>
<polyline points="281,447 281,488 270.5,494" fill="none" stroke="#78b878" stroke-width="1" stroke-linejoin="round" stroke-linecap="round" />
<polygon points="262.5,470.7 262.5,454.2 278.8,446.1 284.8,449.4 284.8,465.9 268.5,474" fill="#fff" stroke="#7e7e7e" stroke-width="1.6" stroke-linejoin="round" />
<polyline points="268.5,457.5 268.5,474" fill="none" stroke="#7e7e7e" stroke-width="1.6" stroke-linejoin="round" stroke-linecap="round" />
<polyline points="268.5,457.5 284.8,449.4" fill="none" stroke="#7e7e7e" stroke-width="1.6" stroke-linejoin="round" stroke-linecap="round" />
<ellipse cx="274" cy="448.5" rx="2.6" ry="1.6" fill="#fff" stroke="#7e7e7e" stroke-width="1.3"/>
<rect x="271.4" y="444.5" width="5.2" height="4" fill="#fff" stroke="none"/>
<path d="M271.4,448.5 L271.4,444.5 M276.6,448.5 L276.6,444.5" stroke="#7e7e7e" stroke-width="1.2"/>
<ellipse cx="274" cy="444.5" rx="2.6" ry="1.4" fill="#fff" stroke="#7e7e7e" stroke-width="1.2"/>
<rect x="294.8" y="485.5" width="4.5" height="40.5" fill="#868686" rx="1.5"/>
<polyline points="304.5,460.5 304.5,501.5 294,507.5" fill="none" stroke="#78b878" stroke-width="1" stroke-linejoin="round" stroke-linecap="round" />
<polygon points="308.3,463.5 312,467.5 312,475.5 308.3,478.5" fill="#6a6a6a" stroke="#555" stroke-width="0.8" stroke-linejoin="round" />
<polygon points="286,484.2 286,467.7 302.3,459.6 308.3,462.9 308.3,479.4 292,487.5" fill="#fff" stroke="#7e7e7e" stroke-width="1.6" stroke-linejoin="round" />
<polyline points="292,471 292,487.5" fill="none" stroke="#7e7e7e" stroke-width="1.6" stroke-linejoin="round" stroke-linecap="round" />
<polyline points="292,471 308.3,462.9" fill="none" stroke="#7e7e7e" stroke-width="1.6" stroke-linejoin="round" stroke-linecap="round" />
<ellipse cx="297.5" cy="462" rx="2.6" ry="1.6" fill="#fff" stroke="#7e7e7e" stroke-width="1.3"/>
<rect x="294.9" y="458" width="5.2" height="4" fill="#fff" stroke="none"/>
<path d="M294.9,462 L294.9,458 M300.1,462 L300.1,458" stroke="#7e7e7e" stroke-width="1.2"/>
<ellipse cx="297.5" cy="458" rx="2.6" ry="1.4" fill="#fff" stroke="#7e7e7e" stroke-width="1.2"/>
<rect x="372.4" y="521.8" width="4.5" height="30.2" fill="#868686" rx="1.5"/>
<polyline points="382.2,496.8 382.2,537.8 371.7,543.8" fill="none" stroke="#78b878" stroke-width="1" stroke-linejoin="round" stroke-linecap="round" />
<polygon points="363.7,508.8 360.2,511.8 360.2,519.8 363.7,522.8" fill="#6a6a6a" stroke="#555" stroke-width="0.8" stroke-linejoin="round" />
<polygon points="363.7,520.5 363.7,504 380,495.8 386,499.1 386,515.6 369.7,523.8" fill="#fff" stroke="#7e7e7e" stroke-width="1.6" stroke-linejoin="round" />
<polyline points="369.7,507.3 369.7,523.8" fill="none" stroke="#7e7e7e" stroke-width="1.6" stroke-linejoin="round" stroke-linecap="round" />
<polyline points="369.7,507.3 386,499.1" fill="none" stroke="#7e7e7e" stroke-width="1.6" stroke-linejoin="round" stroke-linecap="round" />
<ellipse cx="375.2" cy="498.3" rx="2.6" ry="1.6" fill="#fff" stroke="#7e7e7e" stroke-width="1.3"/>
<rect x="372.6" y="494.3" width="5.2" height="4" fill="#fff" stroke="none"/>
<path d="M372.6,498.3 L372.6,494.3 M377.8,498.3 L377.8,494.3" stroke="#7e7e7e" stroke-width="1.2"/>
<ellipse cx="375.2" cy="494.3" rx="2.6" ry="1.4" fill="#fff" stroke="#7e7e7e" stroke-width="1.2"/>
<rect x="397.1" y="507" width="4.5" height="31.5" fill="#868686" rx="1.5"/>
<polyline points="406.9,482 406.9,523 396.4,529" fill="none" stroke="#78b878" stroke-width="1" stroke-linejoin="round" stroke-linecap="round" />
<polygon points="388.4,494 384.9,497 384.9,505 388.4,508" fill="#6a6a6a" stroke="#555" stroke-width="0.8" stroke-linejoin="round" />
<polygon points="388.4,505.7 388.4,489.2 404.7,481.1 410.7,484.4 410.7,500.9 394.4,509" fill="#fff" stroke="#7e7e7e" stroke-width="1.6" stroke-linejoin="round" />
<polyline points="394.4,492.5 394.4,509" fill="none" stroke="#7e7e7e" stroke-width="1.6" stroke-linejoin="round" stroke-linecap="round" />
<polyline points="394.4,492.5 410.7,484.4" fill="none" stroke="#7e7e7e" stroke-width="1.6" stroke-linejoin="round" stroke-linecap="round" />
<ellipse cx="399.9" cy="483.5" rx="2.6" ry="1.6" fill="#fff" stroke="#7e7e7e" stroke-width="1.3"/>
<rect x="397.3" y="479.5" width="5.2" height="4" fill="#fff" stroke="none"/>
<path d="M397.3,483.5 L397.3,479.5 M402.5,483.5 L402.5,479.5" stroke="#7e7e7e" stroke-width="1.2"/>
<ellipse cx="399.9" cy="479.5" rx="2.6" ry="1.4" fill="#fff" stroke="#7e7e7e" stroke-width="1.2"/>
<polyline points="335,493 327,497 360.5,518.5" fill="none" stroke="#78b878" stroke-width="1" stroke-linejoin="round" stroke-linecap="round" />
<polyline points="718.6,270 718.6,286.5" fill="none" stroke="#7474f0" stroke-width="6" stroke-linejoin="round" stroke-linecap="round" />
<polyline points="493.1,140 493.1,157.5" fill="none" stroke="#7474f0" stroke-width="6" stroke-linejoin="round" stroke-linecap="round" />
<polyline points="578,35.5 544,57 727.2,163.5 364,372.5 97,221" fill="none" stroke="#ee8a8a" stroke-width="5.2" stroke-linejoin="round" stroke-linecap="round" />
<polyline points="578,35.5 544,57 727.2,163.5 364,372.5 97,221" fill="none" stroke="#fbd8d8" stroke-width="3.0" stroke-linejoin="round" stroke-linecap="round" />
<polyline points="133.5,240 133.5,389 145,383" fill="none" stroke="#ee8a8a" stroke-width="5.2" stroke-linejoin="round" stroke-linecap="round" />
<polyline points="133.5,240 133.5,389 145,383" fill="none" stroke="#fbd8d8" stroke-width="3.0" stroke-linejoin="round" stroke-linecap="round" />
<polyline points="546.8,267 546.8,386" fill="none" stroke="#ff2020" stroke-width="1.6" stroke-linejoin="round" stroke-linecap="round" />
<polyline points="584.6,246 584.6,364" fill="none" stroke="#ff2020" stroke-width="1.6" stroke-linejoin="round" stroke-linecap="round" />
<circle cx="545" cy="386" r="3" fill="#ff2020"/>
<circle cx="584" cy="363.5" r="3" fill="#ff2020"/>
</svg>
</body></html>
